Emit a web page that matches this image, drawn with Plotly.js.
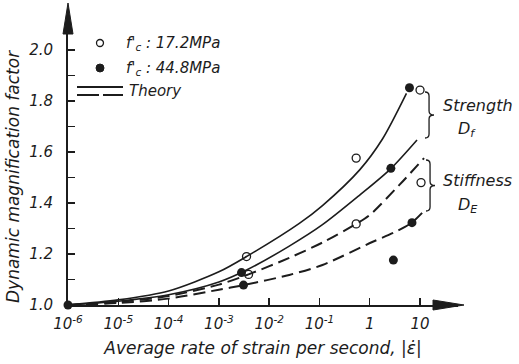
<!DOCTYPE html>
<html>
<head>
<meta charset="utf-8">
<script src="https://cdn.plot.ly/plotly-3.0.1.min.js"></script>
<style>html,body{margin:0;padding:0;background:#fff;}#chart{width:519px;height:364px;}</style>
</head>
<body>
<div id="chart"></div>
<script>
// ---- data (x given as log10 of the average strain rate, y = dynamic magnification factor) ----
// theory curves
const strengthUpperLog = [-6, -5, -4, -3, -2.45, -1.4, -0.94, -0.2, 0.25, 0.73];
const strengthUpperDMF = [1.0, 1.02, 1.055, 1.13, 1.19, 1.32, 1.39, 1.53, 1.65, 1.83];
const strengthLowerLog = [-6, -5, -4, -3, -2.45, -1.6, -0.94, -0.2, 0.41, 0.94];
const strengthLowerDMF = [1.0, 1.015, 1.04, 1.09, 1.137, 1.231, 1.315, 1.431, 1.533, 1.647];
const stiffUpperLog = [-6, -5, -4, -3, -2.41, -1.6, -0.94, -0.27, 0.0, 0.59, 1.08];
const stiffUpperDMF = [1.0, 1.012, 1.035, 1.08, 1.12, 1.185, 1.245, 1.318, 1.353, 1.471, 1.576];
const stiffLowerLog = [-6, -5, -4, -3, -2.51, -1.6, -0.94, 0.05, 0.49, 0.83, 1.08];
const stiffLowerDMF = [1.0, 1.008, 1.025, 1.06, 1.078, 1.118, 1.157, 1.247, 1.285, 1.322, 1.369];
// test results
const fc172Log = [-2.45, -2.41, -0.27, -0.27, 1.0, 1.02];
const fc172DMF = [1.19, 1.12, 1.576, 1.318, 1.843, 1.48];
const fc448Log = [-6, -2.55, -2.51, 0.42, 0.47, 0.79, 0.84];
const fc448DMF = [1.0, 1.127, 1.078, 1.536, 1.176, 1.852, 1.323];
// axis ticks
const xTickLog = [-6, -5, -4, -3, -2, -1, 0, 1];
const xTickText = ['10<sup>-6</sup>', '10<sup>-5</sup>', '10<sup>-4</sup>', '10<sup>-3</sup>', '10<sup>-2</sup>', '10<sup>-1</sup>', '1', '10'];
const yTickVals = [1.0, 1.1, 1.2, 1.3, 1.4, 1.5, 1.6, 1.7, 1.8, 1.9, 2.0];
const yTickText = ['1.0', '', '1.2', '', '1.4', '', '1.6', '', '1.8', '', '2.0'];

const rate = a => a.map(e => Math.pow(10, e));

// ---- layout geometry ----
const W = 519, H = 364;
const M = {l: 68, r: 61, t: 20, b: 59};
const PW = W - M.l - M.r, PH = H - M.t - M.b;
const px = v => (v - M.l) / PW;          // pixel -> paper (decorations only)
const py = v => (H - M.b - v) / PH;
const INK = '#1c1c1c';
const FAM = 'DejaVu Sans';
const FONT = {family: FAM, size: 15, color: INK, style: 'italic'};

const lineTrace = (lx, ly, dash, w, name) => ({
  x: rate(lx), y: ly, type: 'scatter', mode: 'lines', name: name,
  line: {color: INK, width: w, dash: dash, shape: 'spline', smoothing: 0.8},
  hoverinfo: 'skip', cliponaxis: false
});

const traces = [
  lineTrace(strengthUpperLog, strengthUpperDMF, 'solid', 1.6, 'Strength theory (upper)'),
  lineTrace(strengthLowerLog, strengthLowerDMF, 'solid', 1.6, 'Strength theory (lower)'),
  lineTrace(stiffUpperLog, stiffUpperDMF, '12px,6px', 2, 'Stiffness theory (upper)'),
  lineTrace(stiffLowerLog, stiffLowerDMF, '12px,6px', 2, 'Stiffness theory (lower)'),
  {x: rate(fc172Log), y: fc172DMF, type: 'scatter', mode: 'markers', name: 'fc 17.2MPa',
   marker: {symbol: 'circle-open', size: 8, color: INK, line: {width: 1.3, color: INK}}, cliponaxis: false},
  {x: rate(fc448Log), y: fc448DMF, type: 'scatter', mode: 'markers', name: 'fc 44.8MPa',
   marker: {symbol: 'circle', size: 9, color: INK}, cliponaxis: false}
];

function brace(xl, yTop, yBot, w) {
  const xm = xl + w * 0.45, xt = xl + w, ym = (yTop + yBot) / 2, r = 4;
  const P = (x, y) => px(x) + ',' + py(y);
  return 'M' + P(xl, yTop) + ' Q' + P(xm, yTop) + ' ' + P(xm, yTop + r) +
         ' L' + P(xm, ym - r) + ' Q' + P(xm, ym) + ' ' + P(xt, ym) +
         ' Q' + P(xm, ym) + ' ' + P(xm, ym + r) +
         ' L' + P(xm, yBot - r) + ' Q' + P(xm, yBot) + ' ' + P(xl, yBot);
}
const tri = (a, b, c) => 'M' + px(a[0]) + ',' + py(a[1]) + ' L' + px(b[0]) + ',' + py(b[1]) +
                        ' L' + px(c[0]) + ',' + py(c[1]) + ' Z';

const shapes = [
  // axis arrow heads
  {type: 'line', xref: 'paper', yref: 'paper', x0: 0, x1: 0, y0: 1, y1: py(30), line: {color: INK, width: 2}},
  {type: 'path', xref: 'paper', yref: 'paper', path: tri([68, 3], [63, 34], [73, 34]), fillcolor: INK, line: {color: INK, width: 1}},
  {type: 'line', xref: 'paper', yref: 'paper', x0: 1, x1: px(440), y0: 0, y1: 0, line: {color: INK, width: 2}},
  {type: 'path', xref: 'paper', yref: 'paper', path: tri([464, 305], [433, 300], [433, 310]), fillcolor: INK, line: {color: INK, width: 1}},
  // legend symbols
  {type: 'circle', xref: 'paper', yref: 'paper', x0: px(96.5), x1: px(103.5), y0: py(46.5), y1: py(39.5), line: {color: INK, width: 1.3}},
  {type: 'circle', xref: 'paper', yref: 'paper', x0: px(96), x1: px(104), y0: py(72), y1: py(64), fillcolor: INK, line: {color: INK, width: 1}},
  {type: 'line', xref: 'paper', yref: 'paper', x0: px(77), x1: px(123), y0: py(87), y1: py(87), line: {color: INK, width: 2}},
  {type: 'line', xref: 'paper', yref: 'paper', x0: px(77), x1: px(99), y0: py(95), y1: py(95), line: {color: INK, width: 2}},
  {type: 'line', xref: 'paper', yref: 'paper', x0: px(103), x1: px(123), y0: py(95), y1: py(95), line: {color: INK, width: 2}},
  // braces
  {type: 'path', xref: 'paper', yref: 'paper', path: brace(425, 92, 138, 9), line: {color: INK, width: 1.3}},
  {type: 'path', xref: 'paper', yref: 'paper', path: brace(426, 160, 211, 9), line: {color: INK, width: 1.3}}
];

const ann = (x, y, text, size) => ({xref: 'paper', yref: 'paper', x: px(x), y: py(y), text: text,
  showarrow: false, xanchor: 'left', yanchor: 'middle', font: Object.assign({}, FONT, {size: size || 15})});

const annotations = [
  ann(124, 43, "f'<sub>c</sub> : 17.2MPa", 15),
  ann(124, 68, "f'<sub>c</sub> : 44.8MPa", 15),
  ann(127, 91, 'Theory', 15),
  ann(441, 105, 'Strength', 16),
  ann(456, 129, 'D<sub>f</sub>', 16),
  ann(441, 180, 'Stiffness', 16),
  ann(456, 205, 'D<sub>E</sub>', 16),
  {xref: 'paper', yref: 'paper', x: px(13), y: py(177), text: 'Dynamic magnification factor',
   textangle: -90, showarrow: false, xanchor: 'center', yanchor: 'middle',
   font: {family: FAM, size: 17, color: INK, style: 'italic'}}
];

const layout = {
  width: W, height: H, margin: M,
  paper_bgcolor: '#fff', plot_bgcolor: '#fff',
  showlegend: false,
  font: FONT,
  xaxis: {
    type: 'log', range: [-6, -6 + PW / 50.29],
    tickvals: rate(xTickLog), ticktext: xTickText,
    ticks: 'inside', ticklen: 7, tickwidth: 1.4, tickcolor: INK,
    showline: true, linecolor: INK, linewidth: 2,
    showgrid: false, zeroline: false, automargin: false,
    ticklabelstandoff: 4,
    tickfont: {family: FAM, size: 15, color: INK, style: 'italic'},
    title: {text: 'Average rate of strain per second, |ε̇|', standoff: 10,
            font: {family: FAM, size: 17, color: INK, style: 'italic'}}
  },
  yaxis: {
    range: [1.0, 1.0 + PH / 255],
    tickvals: yTickVals, ticktext: yTickText,
    ticks: 'inside', ticklen: 7, tickwidth: 1.4, tickcolor: INK,
    showline: true, linecolor: INK, linewidth: 2,
    showgrid: false, zeroline: false, automargin: false,
    ticklabelstandoff: 10,
    tickfont: {family: FAM, size: 15, color: INK, style: 'italic'}
  },
  shapes: shapes,
  annotations: annotations
};

Plotly.newPlot('chart', traces, layout, {staticPlot: true, displayModeBar: false});
</script>
</body>
</html>
